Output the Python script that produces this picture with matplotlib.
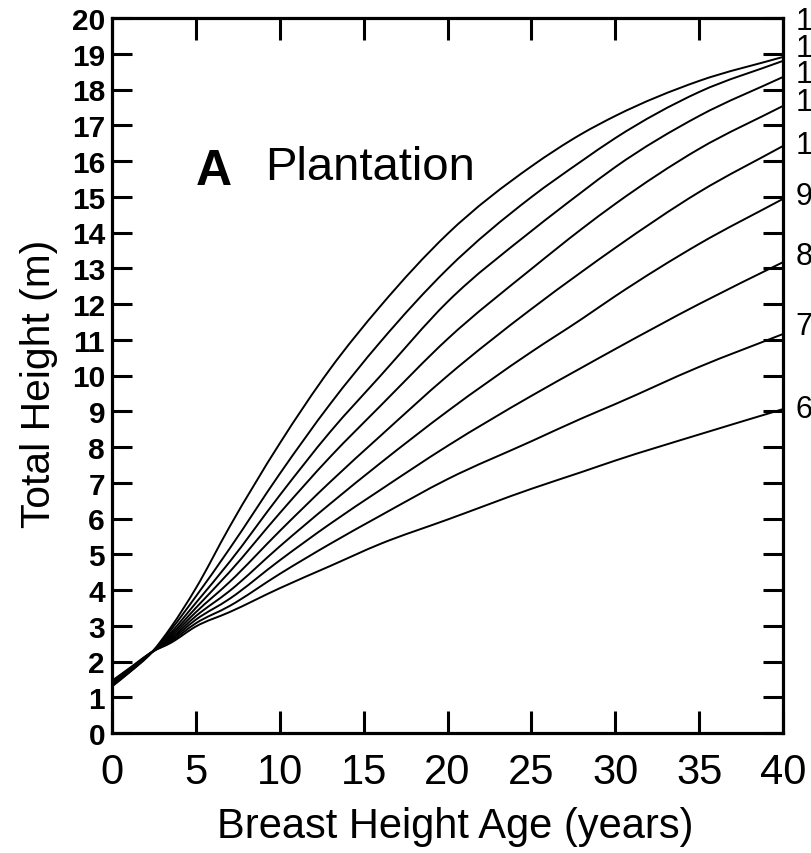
import matplotlib
matplotlib.use("Agg")
import matplotlib.pyplot as plt
from matplotlib.path import Path
from matplotlib.patches import PathPatch

# ---- data ----
ages = [0, 1, 2.4, 3.5, 5, 7, 10, 13, 16, 20, 25, 28, 30, 35, 40]
site_index = [14, 13, 12, 11, 10, 9, 8, 7, 6]
h14 = [1.30, 1.68, 2.27, 2.95, 4.05, 5.76, 8.10, 10.18, 11.94, 13.96, 15.85, 16.76, 17.26, 18.24, 18.91]
h13 = [1.32, 1.69, 2.27, 2.88, 3.82, 5.15, 7.25, 9.20, 10.94, 12.98, 14.99, 16.00, 16.64, 17.93, 18.80]
h12 = [1.34, 1.70, 2.27, 2.80, 3.64, 4.78, 6.65, 8.42, 9.99, 12.06, 14.04, 15.13, 15.83, 17.26, 18.35]
h11 = [1.36, 1.72, 2.27, 2.74, 3.50, 4.50, 6.15, 7.72, 9.15, 11.02, 12.98, 14.10, 14.80, 16.34, 17.54]
h10 = [1.38, 1.73, 2.27, 2.69, 3.38, 4.22, 5.65, 7.02, 8.31, 9.99, 11.86, 12.90, 13.57, 15.13, 16.42]
h9  = [1.40, 1.75, 2.27, 2.64, 3.27, 3.97, 5.22, 6.41, 7.55, 9.00, 10.66, 11.58, 12.22, 13.68, 14.94]
h8  = [1.42, 1.76, 2.27, 2.60, 3.17, 3.75, 4.83, 5.85, 6.80, 8.03, 9.43, 10.22, 10.74, 12.00, 13.17]
h7  = [1.44, 1.78, 2.27, 2.56, 3.07, 3.55, 4.45, 5.29, 6.08, 7.10, 8.16, 8.80, 9.20, 10.24, 11.16]
h6  = [1.46, 1.80, 2.27, 2.52, 2.98, 3.38, 4.05, 4.67, 5.29, 5.97, 6.83, 7.30, 7.62, 8.35, 9.06]
heights = [h14, h13, h12, h11, h10, h9, h8, h7, h6]
curve_labels = ["14", "13", "12", "11", "10", "9", "8", "7", "6"]

x_ticks = [0, 5, 10, 15, 20, 25, 30, 35, 40]
y_ticks = list(range(0, 21))

# ---- layout ----
label_y = [19.92, 19.16, 18.43, 17.65, 16.45, 15.02, 13.34, 11.38, 9.06]


def smooth_path(xs, ys):
    """Cubic Hermite curve through the points, drawn as Bezier segments."""
    n = len(xs)
    m = []
    for i in range(n):
        if i == 0:
            m.append((ys[1] - ys[0]) / (xs[1] - xs[0]))
        elif i == n - 1:
            m.append((ys[-1] - ys[-2]) / (xs[-1] - xs[-2]))
        else:
            h0 = xs[i] - xs[i - 1]
            h1 = xs[i + 1] - xs[i]
            d0 = (ys[i] - ys[i - 1]) / h0
            d1 = (ys[i + 1] - ys[i]) / h1
            m.append((d0 * h1 + d1 * h0) / (h0 + h1))
    verts = [(xs[0], ys[0])]
    codes = [Path.MOVETO]
    for i in range(n - 1):
        dx = xs[i + 1] - xs[i]
        verts += [(xs[i] + dx / 3, ys[i] + m[i] * dx / 3),
                  (xs[i + 1] - dx / 3, ys[i + 1] - m[i + 1] * dx / 3),
                  (xs[i + 1], ys[i + 1])]
        codes += [Path.CURVE4] * 3
    return Path(verts, codes)


W, H = 811, 854
fig = plt.figure(figsize=(W / 100, H / 100), dpi=100)
ax = fig.add_axes([112 / W, (H - 734) / H, (783 - 112) / W, (734 - 19) / H])

for h in heights:
    ax.add_patch(PathPatch(smooth_path(ages, h), facecolor="none", edgecolor="black",
                           lw=1.4, capstyle="round", joinstyle="round"))

ax.set_xlim(0, 40)
ax.set_ylim(0, 20)
ax.set_xticks(x_ticks)
ax.set_yticks(y_ticks)

for s in ax.spines.values():
    s.set_linewidth(2.3)

ax.tick_params(axis="y", which="major", direction="in", length=14.5, width=2.2,
               left=True, right=True, labelleft=True, labelright=False, pad=5)
ax.tick_params(axis="x", which="major", direction="in", length=15.5, width=2.2,
               bottom=True, top=True, labelbottom=True, pad=14)

for lab in ax.get_yticklabels():
    lab.set_fontfamily("Liberation Sans")
    lab.set_fontweight("bold")
    lab.set_fontsize(21.5)
for lab in ax.get_xticklabels():
    lab.set_fontfamily("Liberation Sans")
    lab.set_fontsize(30)

ax.set_xlabel("Breast Height Age (years)", fontfamily="Liberation Sans", fontsize=30, labelpad=10)
ax.xaxis.label.set_x((455.5 - 112) / (783 - 112))
ax.set_ylabel("Total Height (m)", fontfamily="Liberation Sans", fontsize=29.3, labelpad=10)
ax.yaxis.label.set_y((734 - 384) / (734 - 19))

ax.text(5.0, 15.35, "A", fontfamily="Liberation Sans", fontweight="bold", fontsize=36,
        ha="left", va="baseline")
ax.text(9.1, 15.5, "Plantation", fontfamily="Liberation Sans", fontsize=34,
        ha="left", va="baseline")

for lab, ly in zip(curve_labels, label_y):
    ax.text(40.75, ly, lab, fontfamily="Liberation Sans", fontsize=22,
            ha="left", va="center", clip_on=False)

fig.savefig("out.png", dpi=100)
